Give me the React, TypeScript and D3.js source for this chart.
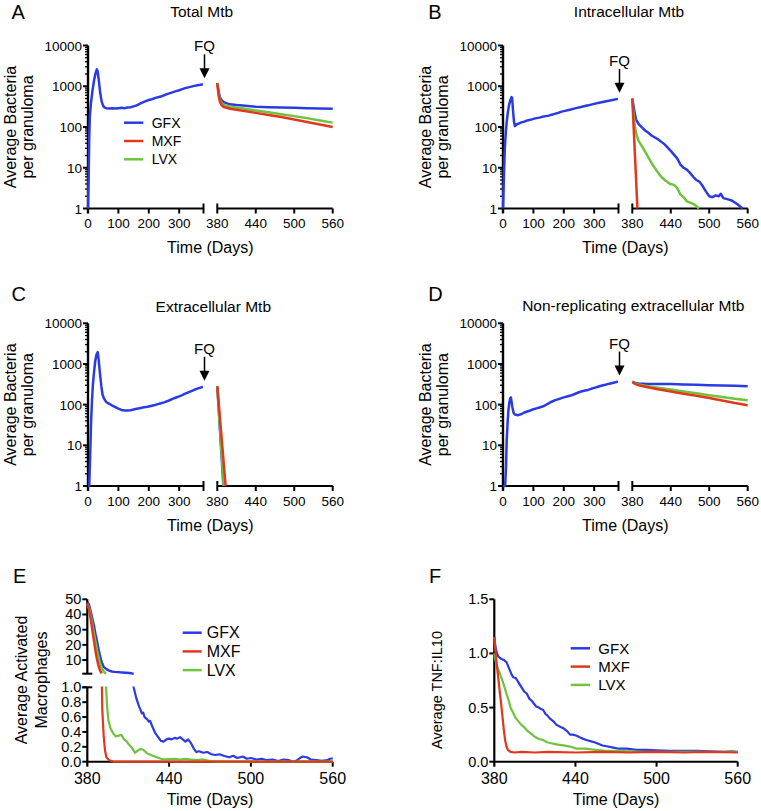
import React, { useRef, useEffect } from "react";
import * as d3 from "d3";

type Pt = [number, number];

const FONT = "'Liberation Sans', Arial, Helvetica, sans-serif";
const BLUE = "#2b3be4";
const RED = "#e0381c";
const GREEN = "#6fc33d";

const seriesNames = ["GFX", "MXF", "LVX"];
const seriesColors = [BLUE, RED, GREEN];

const logTicks = [1, 10, 100, 1000, 10000];
const leftDayTicks = [0, 100, 200, 300];
const rightDayTicks = [380, 440, 500, 560];
const macTopTicks = [10, 20, 30, 40, 50];
const macBottomTicks = [0, 0.2, 0.4, 0.6, 0.8, 1.0];
const ratioTicks = [0, 0.5, 1.0, 1.5];

// A: total Mtb
const totalPre: Pt[] = [[0,1],[2,5],[4,50],[6,180],[10,400],[15,800],[20,1400],[25,2100],[29,2600],[32,2300],[36,1300],[40,700],[45,420],[50,330],[55,300],[60,290],[70,285],[80,290],[90,285],[100,290],[110,295],[120,290],[130,300],[140,305],[150,320],[160,340],[170,370],[180,400],[190,430],[200,460],[210,480],[220,510],[230,540],[240,560],[250,600],[260,640],[270,680],[280,720],[290,760],[300,800],[310,850],[320,900],[330,940],[340,980],[350,1020],[360,1060],[370,1090],[378,1120]];
const totalGFX: Pt[] = [[380,1200],[382,760],[384,540],[387,450],[390,410],[395,380],[400,360],[410,345],[420,335],[440,315],[460,305],[480,300],[500,295],[520,290],[540,285],[560,280]];
const totalMXF: Pt[] = [[380,1200],[382,600],[384,420],[387,340],[390,310],[400,280],[420,250],[440,222],[460,198],[480,175],[500,152],[520,132],[540,115],[560,100]];
const totalLVX: Pt[] = [[380,1200],[382,650],[384,470],[387,380],[390,350],[400,315],[420,285],[440,255],[460,230],[480,205],[500,185],[520,165],[540,145],[560,128]];

// B: intracellular Mtb
const intraPre: Pt[] = [[0,1],[3,6],[6,30],[9,70],[12,130],[16,230],[20,350],[24,450],[28,540],[30,520],[33,250],[36,140],[39,105],[44,115],[50,120],[60,130],[70,135],[80,145],[90,150],[100,158],[110,165],[120,170],[130,178],[140,185],[150,190],[160,200],[170,210],[180,220],[190,235],[200,245],[220,265],[240,290],[260,315],[280,340],[300,370],[320,400],[340,430],[360,460],[378,490]];
const intraGFX: Pt[] = [[380,500],[382,320],[384,210],[386,150],[390,118],[395,98],[400,82],[405,72],[410,62],[420,50],[430,38],[440,26],[450,17],[455,12],[460,10],[465,9],[470,7.5],[475,6],[480,5],[485,4.5],[490,3.5],[495,2.6],[500,2.0],[505,1.9],[510,2.1],[515,2.0],[518,2.3],[522,1.8],[528,1.7],[534,1.6],[540,1.4],[546,1.2],[552,1.0]];
const intraMXF: Pt[] = [[380,500],[388,1]];
const intraLVX: Pt[] = [[380,500],[382,200],[384,105],[387,60],[390,45],[394,36],[397,30],[402,22],[408,15],[413,11],[418,8.5],[425,6],[432,4.8],[439,4.0],[445,3.8],[450,3.2],[455,2.2],[460,1.9],[465,1.5],[470,1.4],[475,1.3],[480,1.15],[484,1.0]];

// C: extracellular Mtb
const extraPre: Pt[] = [[0,1],[4,1],[7,5],[10,35],[13,120],[16,300],[20,650],[24,1200],[28,1700],[32,1950],[35,1300],[38,750],[41,450],[44,280],[48,175],[53,140],[59,118],[65,110],[70,105],[80,95],[90,87],[100,80],[110,74],[120,72],[130,72],[140,73],[150,76],[160,79],[170,82],[180,85],[190,87],[200,90],[210,94],[220,98],[230,103],[240,108],[250,114],[260,121],[270,130],[280,140],[290,150],[300,160],[310,172],[320,186],[330,200],[340,215],[350,232],[360,248],[370,262],[378,275]];
const extraGFX: Pt[] = [[380,280],[389.5,1]];
const extraMXF: Pt[] = [[380,280],[393,1]];
const extraLVX: Pt[] = [[380,280],[390,1]];

// D: non-replicating extracellular Mtb
const nonrepPre: Pt[] = [[0,1],[7,1],[10,3],[12,12],[15,35],[18,75],[21,115],[24,145],[26,150],[28,120],[31,85],[35,62],[40,57],[48,55],[55,57],[60,58],[70,64],[80,68],[90,72],[100,77],[110,81],[120,85],[130,90],[140,98],[150,108],[160,118],[170,127],[180,135],[190,143],[200,151],[210,158],[220,166],[230,175],[240,188],[250,202],[260,213],[270,222],[280,230],[290,245],[300,258],[310,272],[320,287],[330,300],[340,313],[350,328],[360,342],[370,356],[378,370]];
const nonrepGFX: Pt[] = [[380,370],[385,340],[390,330],[400,325],[420,322],[440,320],[460,315],[480,308],[500,302],[520,296],[540,290],[560,285]];
const nonrepMXF: Pt[] = [[380,360],[385,320],[390,300],[400,275],[420,240],[440,210],[460,185],[480,165],[500,145],[520,127],[540,110],[560,97]];
const nonrepLVX: Pt[] = [[380,365],[385,330],[390,315],[400,290],[420,260],[440,235],[460,210],[480,190],[500,170],[520,155],[540,140],[560,128]];

// E: activated macrophages
const macGFX: Pt[] = [[380,48],[381,47],[382,44],[383,40],[384,36],[385,32],[386,27],[387,23],[388,18],[389,14],[390,10],[391,7.5],[392,5.5],[394,4],[396,3],[398,2.5],[400,2.2],[404,1.9],[408,1.7],[411,1.4],[413,1.1],[414,1.0],[416,0.85],[418,0.74],[419,0.7],[420,0.65],[421,0.66],[422,0.6],[424,0.57],[425,0.54],[426,0.55],[428,0.46],[430,0.38],[432,0.33],[434,0.28],[436,0.27],[438,0.3],[440,0.31],[442,0.3],[444,0.32],[446,0.31],[448,0.33],[450,0.3],[452,0.27],[454,0.3],[456,0.25],[458,0.18],[460,0.13],[462,0.14],[465,0.12],[468,0.13],[471,0.1],[474,0.09],[477,0.1],[480,0.08],[484,0.06],[487,0.08],[490,0.05],[494,0.07],[497,0.04],[500,0.05],[504,0.03],[508,0.04],[512,0.02],[516,0.03],[520,0.01],[524,0.03],[528,0.02],[531,0.0],[534,0.02],[536,0.05],[538,0.07],[541,0.06],[544,0.03],[548,0.02],[552,0.01],[556,0.02],[558,0.04],[560,0.045]];
const macMXF: Pt[] = [[380,47],[381,44],[382,40],[383,34],[384,28],[385,22],[386,16],[387,11],[388,7],[389,4],[390,2],[390.5,1.2],[391,0.7],[392,0.35],[393,0.15],[394,0.06],[396,0.02],[400,0],[560,0]];
const macLVX: Pt[] = [[380,47],[381,45],[382,42],[383,37],[384,32],[385,27],[386,22],[387,17],[388,13],[389,9],[390,6],[391,4],[392,2.5],[393,1.5],[393.8,1.0],[394.5,0.75],[395.5,0.55],[397,0.45],[399,0.38],[401,0.34],[403,0.35],[405,0.36],[407,0.3],[409,0.27],[411,0.22],[413,0.18],[415,0.12],[417,0.15],[419,0.17],[421,0.16],[424,0.11],[428,0.08],[431,0.06],[434,0.04],[437,0.03],[440,0.035],[444,0.04],[448,0.03],[452,0.04],[456,0.03],[460,0.02],[465,0.03],[470,0.01],[475,0.0],[560,0]];

// F: TNF:IL10 ratio
const ratioGFX: Pt[] = [[380,1.15],[381,1.05],[382,1.0],[383,0.97],[385,0.95],[387,0.94],[389,0.92],[391,0.86],[393,0.8],[394,0.78],[396,0.77],[398,0.73],[399,0.71],[401,0.67],[402,0.65],[404,0.63],[406,0.58],[408,0.56],[409,0.54],[411,0.51],[413,0.5],[414,0.49],[416,0.48],[418,0.44],[419,0.43],[421,0.4],[423,0.38],[424,0.37],[426,0.34],[429,0.32],[431,0.31],[434,0.28],[436,0.25],[438,0.25],[441,0.24],[444,0.22],[448,0.2],[451,0.19],[454,0.18],[456,0.17],[460,0.15],[464,0.14],[468,0.13],[472,0.12],[478,0.12],[485,0.11],[493,0.11],[500,0.105],[510,0.1],[520,0.1],[530,0.1],[540,0.095],[550,0.09],[555,0.095],[560,0.09]];
const ratioMXF: Pt[] = [[380,1.15],[381,1.0],[382,0.88],[383,0.77],[384,0.65],[385,0.54],[386,0.42],[387,0.3],[388,0.2],[389,0.14],[390,0.11],[392,0.09],[395,0.085],[400,0.09],[410,0.085],[420,0.09],[440,0.085],[460,0.09],[480,0.085],[500,0.09],[520,0.085],[540,0.09],[560,0.085]];
const ratioLVX: Pt[] = [[380,1.0],[381,0.93],[382,0.88],[383,0.85],[384,0.82],[386,0.75],[388,0.67],[389,0.63],[391,0.55],[392,0.5],[394,0.45],[396,0.4],[398,0.37],[400,0.34],[402,0.32],[404,0.29],[406,0.27],[408,0.25],[410,0.23],[413,0.21],[416,0.2],[419,0.18],[422,0.17],[426,0.16],[431,0.15],[436,0.14],[441,0.12],[447,0.12],[455,0.11],[462,0.1],[470,0.1],[480,0.095],[490,0.09],[500,0.09],[520,0.09],[540,0.09],[560,0.09]];

const App = () => {
  const svgRef = useRef<SVGSVGElement>(null);

  useEffect(() => {
    const svg = d3.select(svgRef.current);
    svg.selectAll("*").remove();
    svg.attr("font-family", FONT);

    const txt = (g: any, x: number, y: number, s: string, size: number, anchor = "middle") =>
      g.append("text").attr("x", x).attr("y", y).attr("font-size", size)
        .attr("text-anchor", anchor).attr("fill", "#000").text(s);

    const seg = (g: any, x1: number, y1: number, x2: number, y2: number, w = 2) =>
      g.append("line").attr("x1", x1).attr("y1", y1).attr("x2", x2).attr("y2", y2)
        .attr("stroke", "#000").attr("stroke-width", w);

    const yLabel = (g: any, cx: number, cy: number, lines: string[], size: number, gap: number) => {
      lines.forEach((s, i) => {
        g.append("text")
          .attr("transform", `translate(${cx + i * gap},${cy}) rotate(-90)`)
          .attr("dy", "0.35em").attr("font-size", size).attr("text-anchor", "middle").text(s);
      });
    };

    const legend = (g: any, x1: number, x2: number, tx: number, y0: number, dy: number, size: number) => {
      seriesNames.forEach((n, i) => {
        const yy = y0 + i * dy;
        g.append("line").attr("x1", x1).attr("x2", x2).attr("y1", yy).attr("y2", yy)
          .attr("stroke", seriesColors[i]).attr("stroke-width", 2.5);
        g.append("text").attr("x", tx).attr("y", yy).attr("dy", "0.36em").attr("font-size", size).text(n);
      });
    };

    // Log-scale panel with broken time axis (0-380 | 380-560)
    const logPanel = (cfg: any) => {
      const { ox, top, bottom, pre, post } = cfg;
      const g = svg.append("g");
      const xl = d3.scaleLinear().domain([0, 380]).range([ox, ox + 115.5]);
      const xr = d3.scaleLinear().domain([380, 560]).range([ox + 129.3, ox + 244.7]);
      const y = d3.scaleLog().domain([1, 10000]).range([bottom, top]);

      txt(g, cfg.letterX, cfg.letterY, cfg.letter, 20, "start");
      txt(g, cfg.titleX, cfg.titleY, cfg.title, 15.5);

      // y axis
      seg(g, ox, top, ox, bottom + 5, 2.4);
      logTicks.forEach((v) => {
        seg(g, ox - 5, y(v), ox, y(v), 2);
        txt(g, ox - 6, y(v) + 5, String(v), 13.5, "end");
      });
      logTicks.slice(0, 4).forEach((d) => {
        d3.range(2, 10).forEach((k) => seg(g, ox - 3, y(d * k), ox, y(d * k), 1.3));
      });
      yLabel(g, ox - 78, (top + bottom) / 2, ["Average Bacteria", "per granuloma"], 16, 17);

      // x axis, two segments
      seg(g, ox, bottom, xl(380), bottom, 2);
      seg(g, xl(380), bottom - 5, xl(380), bottom + 5, 2);
      leftDayTicks.forEach((v) => {
        if (v > 0) seg(g, xl(v), bottom, xl(v), bottom + 5, 2);
        txt(g, xl(v), bottom + 19.5, String(v), 13.5);
      });
      seg(g, xr(380), bottom, xr(560), bottom, 2);
      seg(g, xr(380), bottom - 5, xr(380), bottom + 5, 2);
      rightDayTicks.forEach((v) => {
        if (v > 380) seg(g, xr(v), bottom, xr(v), bottom + 5, 2);
        txt(g, xr(v), bottom + 19.5, String(v), 13.5);
      });
      txt(g, (ox + xr(560)) / 2, bottom + 44.5, "Time (Days)", 16);

      // data
      const lineL = d3.line<Pt>().x((d) => xl(d[0])).y((d) => y(d[1]));
      const lineR = d3.line<Pt>().x((d) => xr(d[0])).y((d) => y(d[1]));
      g.append("path").attr("d", lineL(pre)).attr("fill", "none")
        .attr("stroke", BLUE).attr("stroke-width", 2.5).attr("stroke-linejoin", "round");
      [0, 2, 1].forEach((i) => {
        g.append("path").attr("d", lineR(post[i])).attr("fill", "none")
          .attr("stroke", seriesColors[i]).attr("stroke-width", 2.5).attr("stroke-linejoin", "round");
      });

      // FQ arrow
      const last = pre[pre.length - 1];
      const ax = xl(380) + 1;
      const tip = y(last[1]) - 6;
      seg(g, ax, tip - 24, ax, tip - 8, 1.5);
      g.append("path")
        .attr("d", `M${ax - 5},${tip - 10}L${ax + 5},${tip - 10}L${ax},${tip}Z`).attr("fill", "#000");
      txt(g, ax, tip - 27, "FQ", 15);

      if (cfg.legend) legend(g, ox + 36, ox + 55.3, ox + 63.7, 122.7, 18.3, 14);
    };

    logPanel({ ox: 88, top: 45.5, bottom: 208.5, letter: "A", letterX: 11.5, letterY: 18.5,
      title: "Total Mtb", titleX: 201.7, titleY: 17.3, pre: totalPre, post: [totalGFX, totalMXF, totalLVX], legend: true });
    logPanel({ ox: 503, top: 45.5, bottom: 208.5, letter: "B", letterX: 428.3, letterY: 18.5,
      title: "Intracellular Mtb", titleX: 629, titleY: 17.3, pre: intraPre, post: [intraGFX, intraMXF, intraLVX] });
    logPanel({ ox: 88, top: 323.3, bottom: 486, letter: "C", letterX: 11.5, letterY: 301,
      title: "Extracellular Mtb", titleX: 213.3, titleY: 311.5, pre: extraPre, post: [extraGFX, extraMXF, extraLVX] });
    logPanel({ ox: 503, top: 323.3, bottom: 486, letter: "D", letterX: 428.3, letterY: 300.5,
      title: "Non-replicating extracellular Mtb", titleX: 633.3, titleY: 311, pre: nonrepPre, post: [nonrepGFX, nonrepMXF, nonrepLVX] });

    // E: activated macrophages, broken y axis
    {
      const g = svg.append("g");
      const ox = 87.3;
      const x = d3.scaleLinear().domain([380, 560]).range([ox, 332.7]);
      const yT = d3.scaleLinear().domain([1, 50]).range([673.7, 599.3]);
      const yB = d3.scaleLinear().domain([0, 1]).range([761.7, 687.3]);
      txt(g, 13, 583, "E", 20, "start");

      const defs = svg.append("defs");
      defs.append("clipPath").attr("id", "clipTop").append("rect")
        .attr("x", ox - 2).attr("y", 590).attr("width", 260).attr("height", 85);
      defs.append("clipPath").attr("id", "clipBot").append("rect")
        .attr("x", ox - 2).attr("y", 686.5).attr("width", 260).attr("height", 80);

      // axes
      seg(g, ox, 599.3, ox, 673.7, 2.2);
      seg(g, ox - 5, 673.7, ox + 5, 673.7, 2);
      macTopTicks.forEach((v) => {
        seg(g, ox - 5, yT(v), ox, yT(v), 2);
        txt(g, ox - 6, yT(v) + 5, String(v), 14.5, "end");
      });
      seg(g, ox, 687.3, ox, 761.7 + 5, 2.2);
      seg(g, ox - 5, 687.3, ox + 5, 687.3, 2);
      macBottomTicks.forEach((v) => {
        seg(g, ox - 5, yB(v), ox, yB(v), 2);
        txt(g, ox - 6, yB(v) + 5, d3.format(".1f")(v), 14.5, "end");
      });
      seg(g, ox, 761.7, x(560), 761.7, 2);
      rightDayTicks.forEach((v) => {
        if (v > 380) seg(g, x(v), 761.7, x(v), 766.7, 2);
        txt(g, x(v), 784, String(v), 16);
      });
      txt(g, (ox + x(560)) / 2, 805, "Time (Days)", 16);
      yLabel(g, 21.7, 680, ["Average Activated", "Macrophages"], 16, 20);

      const lineT = d3.line<Pt>().x((d) => x(d[0])).y((d) => yT(d[1]));
      const lineB = d3.line<Pt>().x((d) => x(d[0])).y((d) => yB(d[1]));
      const mac = [macGFX, macMXF, macLVX];
      [0, 2, 1].forEach((i) => {
        const upper = mac[i].filter((d) => d[1] >= 1);
        g.append("path").attr("d", lineT(upper)).attr("clip-path", "url(#clipTop)").attr("fill", "none")
          .attr("stroke", seriesColors[i]).attr("stroke-width", 2.5).attr("stroke-linejoin", "round");
        g.append("path").attr("d", lineB(mac[i])).attr("clip-path", "url(#clipBot)").attr("fill", "none")
          .attr("stroke", seriesColors[i]).attr("stroke-width", 2.2).attr("stroke-linejoin", "round");
      });
      legend(g, 182.7, 201.7, 206.7, 632.7, 18.7, 16);
    }

    // F: TNF:IL10
    {
      const g = svg.append("g");
      const ox = 494.3;
      const x = d3.scaleLinear().domain([380, 560]).range([ox, 737.7]);
      const y = d3.scaleLinear().domain([0, 1.5]).range([761.7, 599.3]);
      txt(g, 429, 583, "F", 20, "start");
      seg(g, ox, 599.3, ox, 766.7, 2.2);
      ratioTicks.forEach((v) => {
        seg(g, ox - 5, y(v), ox, y(v), 2);
        txt(g, ox - 6, y(v) + 5, d3.format(".1f")(v), 14.5, "end");
      });
      seg(g, ox, 761.7, x(560), 761.7, 2);
      rightDayTicks.forEach((v) => {
        if (v > 380) seg(g, x(v), 761.7, x(v), 766.7, 2);
        txt(g, x(v), 784, String(v), 16);
      });
      txt(g, (ox + x(560)) / 2, 805, "Time (Days)", 16);
      yLabel(g, 436.7, 690, ["Average TNF:IL10"], 14.5, 0);

      const line = d3.line<Pt>().x((d) => x(d[0])).y((d) => y(d[1]));
      const ratio = [ratioGFX, ratioMXF, ratioLVX];
      [0, 2, 1].forEach((i) => {
        g.append("path").attr("d", line(ratio[i])).attr("fill", "none")
          .attr("stroke", seriesColors[i]).attr("stroke-width", 2.2).attr("stroke-linejoin", "round");
      });
      legend(g, 570.7, 590, 598.3, 648.3, 18.3, 15);
    }
  }, []);

  return (
    <svg ref={svgRef} width={761} height={811}
      style={{ position: "absolute", left: 0, top: 0, background: "#fff" }} />
  );
};

export default App;
